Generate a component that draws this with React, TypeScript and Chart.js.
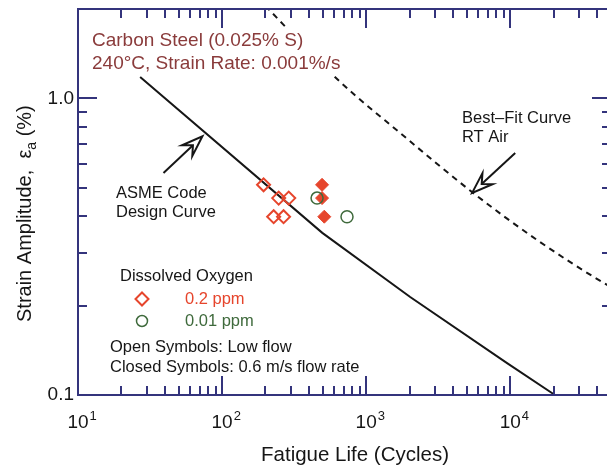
import React, { useEffect, useRef } from 'react';
import { Chart, registerables } from 'chart.js';

Chart.register(...registerables);

// ---------- data ----------
const asmeLife = [27, 496, 2020, 9500, 19800, 21500];
const asmeStrain = [1.18, 0.352, 0.214, 0.128, 0.101, 0.098];

const bestFitLife = [200, 216, 661, 1722, 5520, 15350, 47000, 52000];
const bestFitStrain = [2.05, 1.97, 1.135, 0.764, 0.48, 0.333, 0.235, 0.229];

const openDiamondLife = [194, 247, 290, 228, 267];
const openDiamondStrain = [0.511, 0.461, 0.461, 0.399, 0.399];

const filledDiamondLife = [494, 494, 512];
const filledDiamondStrain = [0.511, 0.461, 0.399];

const openCircleLife = [456, 736];
const openCircleStrain = [0.461, 0.399];

const xTickValues = [10, 100, 1000, 10000];
const xTickLabels = ['10^1', '10^2', '10^3', '10^4'];
const yTickValues = [1.0, 0.1];
const yTickLabels = ['1.0', '0.1'];

const X_MIN = 10;
const X_MAX = 50000;
const Y_MIN = 0.1;
const Y_MAX = 2.0;

// annotation arrows (data coordinates: [life, strain])
const asmeArrowTip = [73, 0.745];
const asmeArrowTail = [39.2, 0.56];
const bestArrowTip = [5436, 0.48];
const bestArrowTail = [10820, 0.654];

// ---------- styles ----------
const FONT = '"Liberation Sans", Arial, Helvetica, sans-serif';
const AXIS = '#34347c';
const RED = '#e6452c';
const GREEN = '#3f6a3c';
const BROWN = '#8a3b3b';
const INK = '#161616';

const CANVAS_W = 620;
const CANVAS_H = 468;

const toPts = (xs: number[], ys: number[]) => xs.map((x, i) => ({ x, y: ys[i] }));

function drawArrow(ctx: CanvasRenderingContext2D, tx: number, ty: number, fx: number, fy: number) {
  const dx = tx - fx;
  const dy = ty - fy;
  const len = Math.hypot(dx, dy);
  const ux = dx / len;
  const uy = dy / len;
  const nx = -uy;
  const ny = ux;
  const L = 21;
  const W = 7.5;
  const N = 13;
  const bx = tx - ux * L;
  const by = ty - uy * L;
  const mx = tx - ux * N;
  const my = ty - uy * N;
  ctx.save();
  ctx.strokeStyle = INK;
  ctx.lineWidth = 2;
  ctx.lineJoin = 'miter';
  ctx.beginPath();
  ctx.moveTo(fx, fy);
  ctx.lineTo(mx, my);
  ctx.stroke();
  ctx.beginPath();
  ctx.moveTo(tx, ty);
  ctx.lineTo(bx + nx * W, by + ny * W);
  ctx.lineTo(mx, my);
  ctx.lineTo(bx - nx * W, by - ny * W);
  ctx.closePath();
  ctx.fillStyle = '#ffffff';
  ctx.fill();
  ctx.stroke();
  ctx.restore();
}

function text(ctx: CanvasRenderingContext2D, s: string, x: number, y: number, size: number, color: string) {
  ctx.font = `${size}px ${FONT}`;
  ctx.fillStyle = color;
  ctx.textAlign = 'left';
  ctx.textBaseline = 'middle';
  ctx.fillText(s, x, y);
}

const overlayPlugin = {
  id: 'overlay',
  afterDraw(chart: any) {
    const ctx: CanvasRenderingContext2D = chart.ctx;
    const { left, right, top, bottom } = chart.chartArea;
    const xs = chart.scales.x;
    const ys = chart.scales.y;

    ctx.save();

    // opaque box behind the material caption (hides the dashed curve there)
    ctx.fillStyle = '#ffffff';
    ctx.fillRect(88, 29, 256, 47);

    // frame
    ctx.strokeStyle = AXIS;
    ctx.lineWidth = 2;
    ctx.strokeRect(left, top, right - left, bottom - top);

    // x ticks (bottom and top, inward)
    ctx.lineWidth = 2;
    for (let k = 1; k <= 4; k++) {
      for (let m = 1; m <= 9; m++) {
        const v = m * Math.pow(10, k);
        if (v < X_MIN || v > X_MAX) continue;
        const px = Math.round(xs.getPixelForValue(v));
        const len = m === 1 ? 19 : 9;
        ctx.beginPath();
        ctx.moveTo(px, bottom);
        ctx.lineTo(px, bottom - len);
        ctx.moveTo(px, top);
        ctx.lineTo(px, top + len);
        ctx.stroke();
      }
    }
    // y ticks (left and right, inward)
    for (let k = -1; k <= 0; k++) {
      for (let m = 1; m <= 9; m++) {
        const v = m * Math.pow(10, k);
        if (v < Y_MIN - 1e-9 || v > Y_MAX + 1e-9) continue;
        const py = Math.round(ys.getPixelForValue(v));
        const len = m === 1 ? 19 : 9;
        ctx.beginPath();
        ctx.moveTo(left, py);
        ctx.lineTo(left + len, py);
        ctx.moveTo(right, py);
        ctx.lineTo(right - len, py);
        ctx.stroke();
      }
    }

    // x tick labels 10^n
    xTickValues.forEach((v, i) => {
      const [base, exp] = xTickLabels[i].split('^');
      const px = xs.getPixelForValue(v);
      ctx.font = `19px ${FONT}`;
      ctx.fillStyle = INK;
      ctx.textBaseline = 'alphabetic';
      ctx.textAlign = 'center';
      const w = ctx.measureText(base).width;
      ctx.fillText(base, px, bottom + 33);
      ctx.font = `13px ${FONT}`;
      ctx.textAlign = 'left';
      ctx.fillText(exp, px + w / 2 + 1, bottom + 25);
    });

    // y tick labels
    yTickValues.forEach((v, i) => {
      const py = ys.getPixelForValue(v);
      ctx.font = `19px ${FONT}`;
      ctx.fillStyle = INK;
      ctx.textAlign = 'right';
      ctx.textBaseline = 'middle';
      ctx.fillText(yTickLabels[i], left - 4, py);
    });

    // x title
    ctx.font = `20.5px ${FONT}`;
    ctx.fillStyle = INK;
    ctx.textAlign = 'center';
    ctx.textBaseline = 'alphabetic';
    ctx.fillText('Fatigue Life (Cycles)', 355, 461);

    // y title (rotated) with subscript
    ctx.save();
    ctx.translate(31, 322);
    ctx.rotate(-Math.PI / 2);
    ctx.textAlign = 'left';
    ctx.textBaseline = 'alphabetic';
    ctx.font = `20px ${FONT}`;
    let cx = 0;
    const part1 = 'Strain Amplitude,  \u03B5';
    ctx.fillText(part1, cx, 0);
    cx += ctx.measureText(part1).width;
    ctx.font = `14px ${FONT}`;
    ctx.fillText('a', cx, 5);
    cx += ctx.measureText('a').width;
    ctx.font = `20px ${FONT}`;
    ctx.fillText(' (%)', cx, 0);
    ctx.restore();

    // annotations
    text(ctx, 'Carbon Steel (0.025% S)', 92, 41, 19, BROWN);
    text(ctx, '240\u00B0C, Strain Rate: 0.001%/s', 92, 64, 19, BROWN);
    text(ctx, 'ASME Code', 116, 193, 16.5, INK);
    text(ctx, 'Design Curve', 116, 212, 16.5, INK);
    text(ctx, 'Best\u2013Fit Curve', 462, 118, 16.5, INK);
    text(ctx, 'RT Air', 462, 137, 16.5, INK);

    drawArrow(
      ctx,
      xs.getPixelForValue(asmeArrowTip[0]), ys.getPixelForValue(asmeArrowTip[1]),
      xs.getPixelForValue(asmeArrowTail[0]), ys.getPixelForValue(asmeArrowTail[1])
    );
    drawArrow(
      ctx,
      xs.getPixelForValue(bestArrowTip[0]), ys.getPixelForValue(bestArrowTip[1]),
      xs.getPixelForValue(bestArrowTail[0]), ys.getPixelForValue(bestArrowTail[1])
    );

    // legend
    text(ctx, 'Dissolved Oxygen', 120, 276, 16.5, INK);
    ctx.strokeStyle = RED;
    ctx.lineWidth = 2;
    ctx.beginPath();
    ctx.moveTo(142, 299 - 6.5);
    ctx.lineTo(142 + 6.5, 299);
    ctx.lineTo(142, 299 + 6.5);
    ctx.lineTo(142 - 6.5, 299);
    ctx.closePath();
    ctx.stroke();
    text(ctx, '0.2 ppm', 185, 299, 16.5, RED);
    ctx.strokeStyle = GREEN;
    ctx.lineWidth = 1.5;
    ctx.beginPath();
    ctx.arc(142, 321, 5.5, 0, Math.PI * 2);
    ctx.stroke();
    text(ctx, '0.01 ppm', 185, 321, 16.5, GREEN);
    text(ctx, 'Open Symbols: Low flow', 110, 347, 16.5, INK);
    text(ctx, 'Closed Symbols: 0.6 m/s flow rate', 110, 367, 16.5, INK);

    ctx.restore();
  },
};

export default function App() {
  const canvasRef = useRef<HTMLCanvasElement | null>(null);

  useEffect(() => {
    document.body.style.margin = '0';
    document.body.style.overflow = 'hidden';
    document.body.style.background = '#ffffff';
    const canvas = canvasRef.current;
    if (!canvas) return;
    const chart = new Chart(canvas, {
      type: 'scatter',
      data: {
        datasets: [
          {
            label: 'ASME Code Design Curve',
            data: toPts(asmeLife, asmeStrain),
            showLine: true,
            borderColor: INK,
            borderWidth: 2,
            pointRadius: 0,
            tension: 0,
            order: 5,
          },
          {
            label: 'Best-Fit Curve RT Air',
            data: toPts(bestFitLife, bestFitStrain),
            showLine: true,
            borderColor: INK,
            borderWidth: 2,
            borderDash: [6, 5],
            pointRadius: 0,
            cubicInterpolationMode: 'monotone',
            order: 4,
          },
          {
            label: '0.2 ppm, low flow',
            data: toPts(openDiamondLife, openDiamondStrain),
            pointStyle: 'rectRot',
            pointRadius: 6.5,
            borderColor: RED,
            backgroundColor: 'rgba(255,255,255,0)',
            borderWidth: 2,
            order: 3,
          },
          {
            label: '0.2 ppm, 0.6 m/s',
            data: toPts(filledDiamondLife, filledDiamondStrain),
            pointStyle: 'rectRot',
            pointRadius: 6.5,
            borderColor: RED,
            backgroundColor: RED,
            borderWidth: 1,
            order: 2,
          },
          {
            label: '0.01 ppm, low flow',
            data: toPts(openCircleLife, openCircleStrain),
            pointStyle: 'circle',
            pointRadius: 6,
            borderColor: GREEN,
            backgroundColor: 'rgba(255,255,255,0)',
            borderWidth: 1.5,
            order: 1,
          },
        ],
      },
      options: {
        responsive: false,
        animation: false,
        devicePixelRatio: 1,
        layout: { padding: { left: 78, top: 9, right: CANVAS_W - 611, bottom: CANVAS_H - 395 } },
        plugins: { legend: { display: false }, tooltip: { enabled: false } },
        scales: {
          x: { type: 'logarithmic', min: X_MIN, max: X_MAX, display: false },
          y: { type: 'logarithmic', min: Y_MIN, max: Y_MAX, display: false },
        },
      },
      plugins: [overlayPlugin],
    } as any);
    return () => chart.destroy();
  }, []);

  return (
    <div style={{ width: 607, height: 468, overflow: 'hidden', position: 'relative', background: '#fff' }}>
      <canvas ref={canvasRef} width={CANVAS_W} height={CANVAS_H} style={{ width: CANVAS_W, height: CANVAS_H, display: 'block' }} />
    </div>
  );
}
